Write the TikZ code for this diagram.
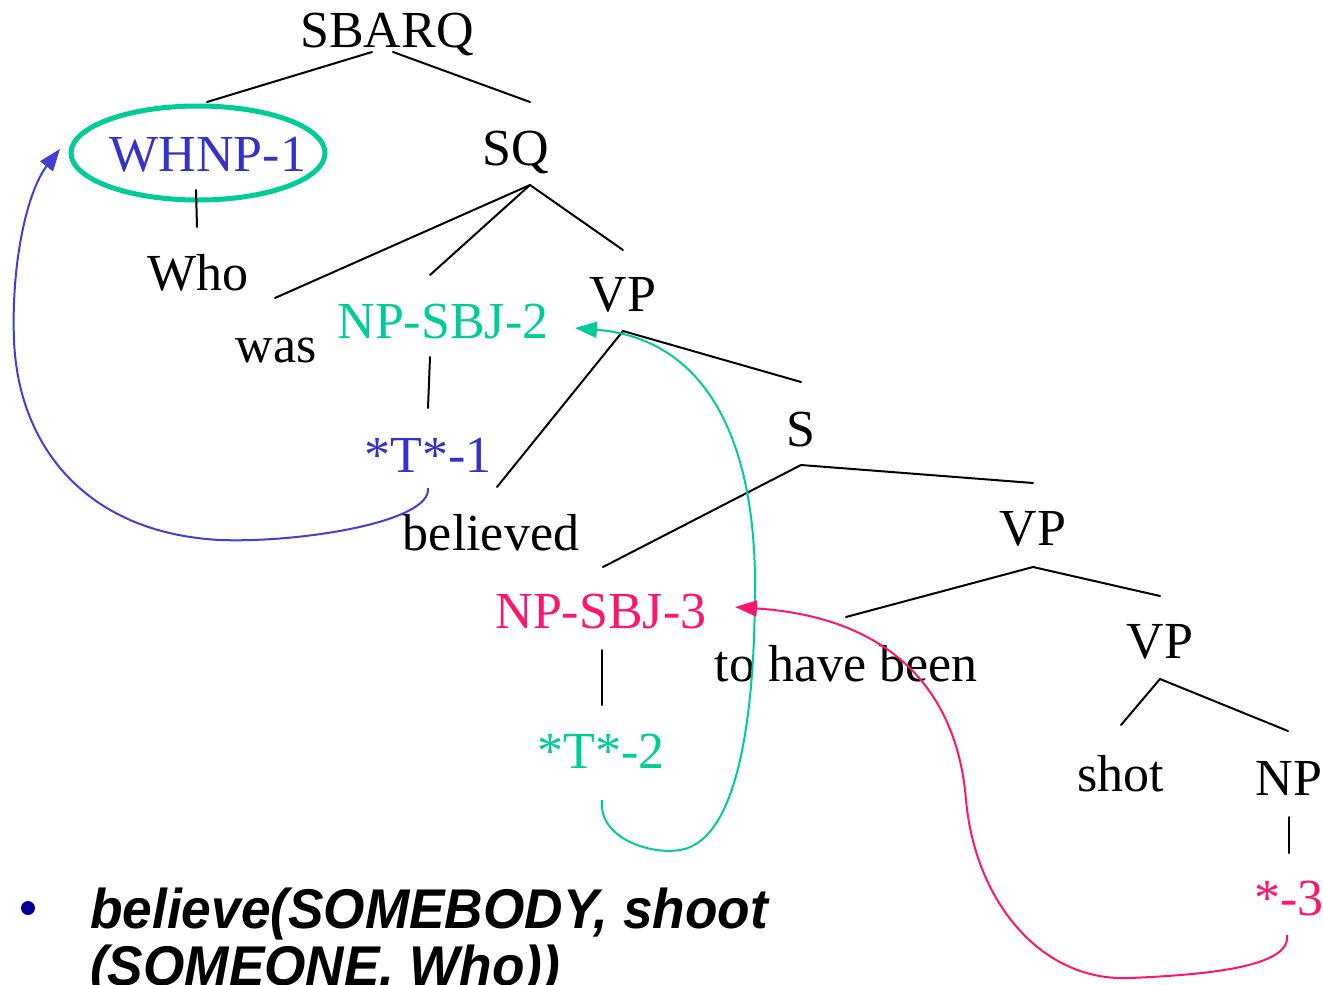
\documentclass[tikz,border=0pt]{standalone}
\usepackage{fontspec}
\setmainfont{Liberation Serif}
\newfontfamily\bulletfont[FakeStretch=0.95]{Liberation Sans}
\usetikzlibrary{arrows.meta,calc}
\definecolor{tblue}{RGB}{51,51,204}
\definecolor{cblue}{RGB}{64,64,208}
\definecolor{tgreen}{RGB}{0,204,153}
\definecolor{tpink}{RGB}{255,20,110}
\definecolor{navy}{RGB}{0,0,153}
\begin{document}
\begin{tikzpicture}[x=1pt,y=-1pt,
  lbl/.style={font=\fontsize{52}{60}\selectfont, inner sep=0pt, anchor=base},
  edge/.style={line width=2pt, line cap=round},
  trace/.style={line width=2pt, -{Triangle[length=22pt,width=16pt]}},
  bl/.style={font=\bulletfont\bfseries\itshape\fontsize{56}{60}\selectfont, inner sep=0pt, anchor=base west}]
\useasboundingbox (0,0) rectangle (1323,985);

% nodes
\node[lbl] (sbarq) at (387,47) {SBARQ};
\node[lbl, text=tblue] (whnp) at (208,171) {WHNP-1};
\node[lbl] (sq) at (516,165) {SQ};
\node[lbl] (who) at (198,290) {Who};
\node[lbl] (was) at (276,362) {was};
\node[lbl, text=tgreen] (npsbj2) at (443,338) {NP-SBJ-2};
\node[lbl] (vp1) at (623,311) {VP};
\node[lbl, text=tblue] (t1) at (428,472) {*T*-1};
\node[lbl] (s) at (801,446) {S};
\node[lbl] (believed) at (491,550) {believed};
\node[lbl] (vp2) at (1033,545) {VP};
\node[lbl, text=tpink] (npsbj3) at (601,628) {NP-SBJ-3};
\node[lbl] (tohave) at (846,681) {to have been};
\node[lbl] (vp3) at (1160,658) {VP};
\node[lbl, text=tgreen] (t2) at (601,768) {*T*-2};
\node[lbl] (shot) at (1121,791) {shot};
\node[lbl] (np) at (1289,795) {NP};
\node[lbl, text=tpink] (star3) at (1289,915) {*-3};

% ellipse round WHNP-1
\draw[tgreen, line width=5pt] (198,153) ellipse [x radius=127, y radius=47];

% attachment points
\coordinate (sbarq-l) at (372,52);
\coordinate (sbarq-r) at (393,52);
\coordinate (whnp-t) at (207,102);
\coordinate (sq-t) at (530,102);
\coordinate (whnp-b) at (196,190);
\coordinate (who-t) at (197,227);
\coordinate (sq-b) at (530,185);
\coordinate (was-t) at (275,298);
\coordinate (npsbj2-t) at (430,275);
\coordinate (vp1-t) at (623,250);
\coordinate (npsbj2-b) at (430,357);
\coordinate (t1-t) at (428,408);
\coordinate (vp1-b) at (623,331);
\coordinate (believed-t) at (497,487);
\coordinate (s-t) at (801,382);
\coordinate (s-b) at (801,465);
\coordinate (npsbj3-t) at (603,567);
\coordinate (vp2-t) at (1033,483);
\coordinate (vp2-b) at (1033,567);
\coordinate (tohave-t) at (846,617);
\coordinate (vp3-t) at (1160,596);
\coordinate (vp3-b) at (1160,679);
\coordinate (shot-t) at (1121,725);
\coordinate (np-t) at (1288,731);
\coordinate (npsbj3-b) at (602,650);
\coordinate (t2-t) at (602,705);
\coordinate (np-b) at (1289,817);
\coordinate (star3-t) at (1289,853);

% tree edges
\draw[edge] (sbarq-l) -- (whnp-t);
\draw[edge] (sbarq-r) -- (sq-t);
\draw[edge] (whnp-b) -- (who-t);
\draw[edge] (sq-b) -- (was-t);
\draw[edge] (sq-b) -- (npsbj2-t);
\draw[edge] (sq-b) -- (vp1-t);
\draw[edge] (npsbj2-b) -- (t1-t);
\draw[edge] (believed-t) -- (vp1-b) -- (s-t);
\draw[edge] (npsbj3-t) -- (s-b) -- (vp2-t);
\draw[edge] (tohave-t) -- (vp2-b) -- (vp3-t);
\draw[edge] (shot-t) -- (vp3-b) -- (np-t);
\draw[edge] (npsbj3-b) -- (t2-t);
\draw[edge] (np-b) -- (star3-t);

% trace arrows
\coordinate (t1-s) at (428,488);
\coordinate (whnp-w) at (60,149);
\draw[trace, cblue] (t1-s) .. controls (432,522) and (300,543) .. (220,540)
  .. controls (85,533) and (18,445) .. (14,340)
  .. controls (11,260) and (28,190) .. (whnp-w);

\coordinate (t2-s) at (602,800);
\coordinate (npsbj2-e) at (575,328);
\draw[trace, tgreen] (t2-s) .. controls (598,838) and (650,855) .. (680,850)
  .. controls (742,840) and (755,700) .. (755,585)
  .. controls (755,430) and (700,338) .. (npsbj2-e);

\coordinate (star3-s) at (1287,935);
\coordinate (npsbj3-e) at (735,607);
\draw[trace, tpink] (star3-s) .. controls (1292,968) and (1200,975) .. (1130,978)
  .. controls (1040,982) and (975,900) .. (966,800)
  .. controls (958,700) and (900,618) .. (npsbj3-e);

% bullet text
\fill[navy] (28,908) circle (7);
\node[bl] (b1) at (90,928) {believe(SOMEBODY, shoot};
\node[bl] (b2) at (90,985) {(SOMEONE. Who))};
\end{tikzpicture}
\end{document}
